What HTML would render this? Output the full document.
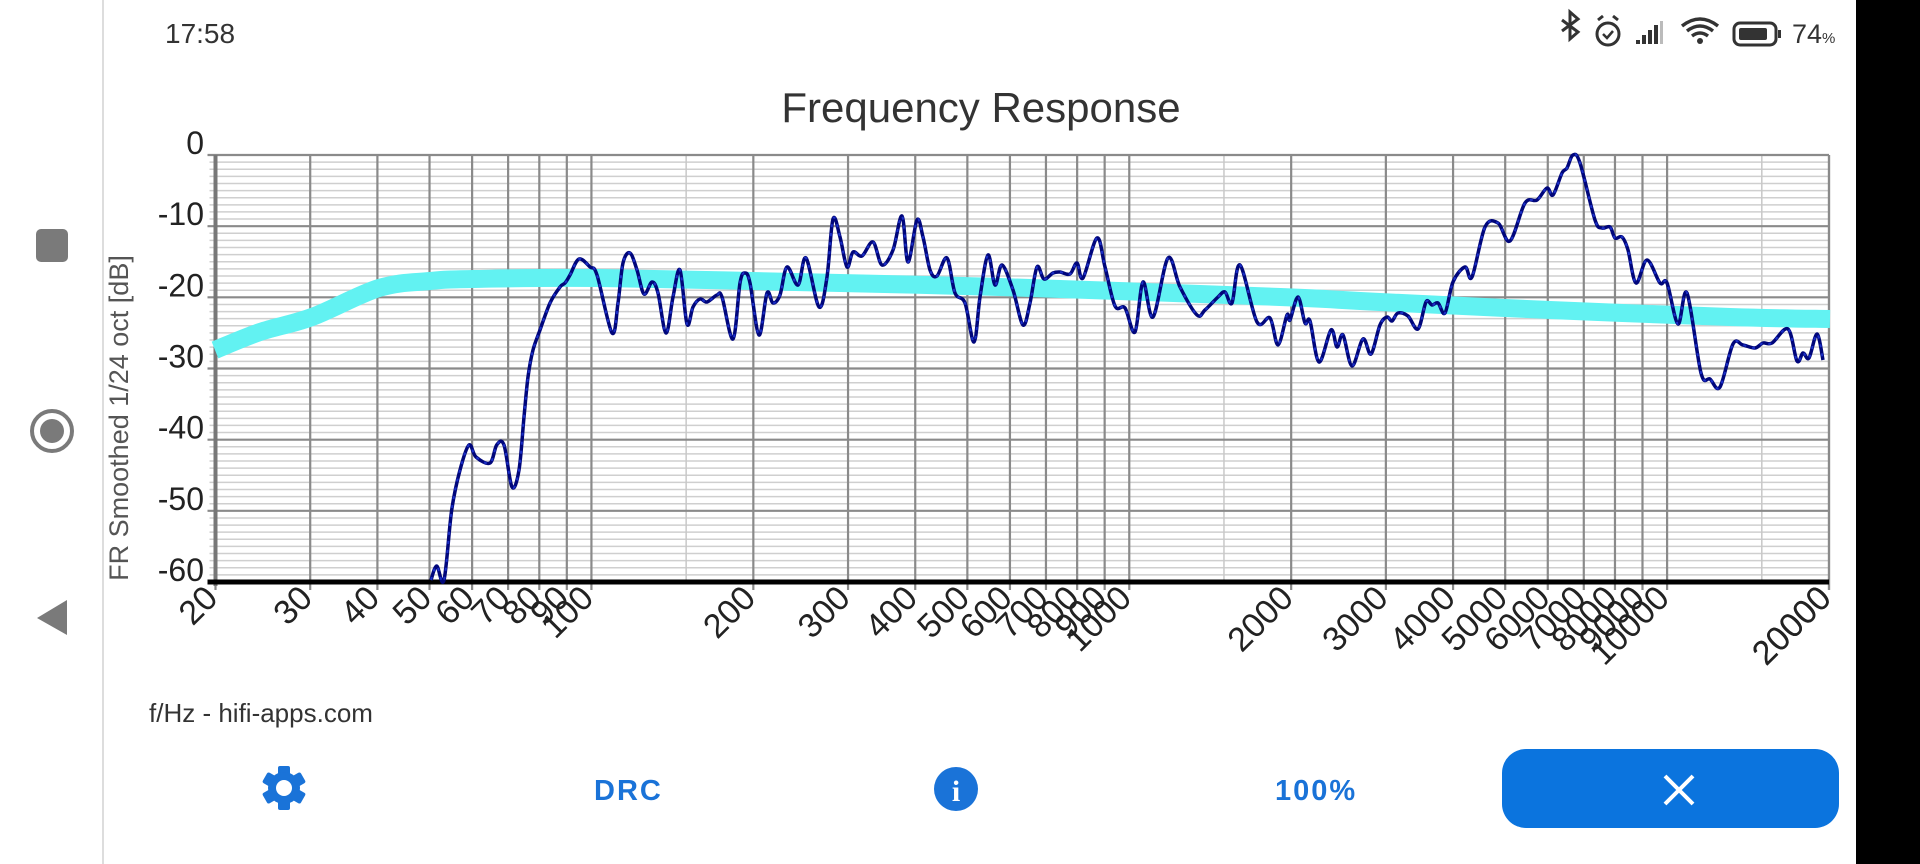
<!DOCTYPE html>
<html><head><meta charset="utf-8"><style>
html,body{margin:0;padding:0;background:#fff;width:1920px;height:864px;overflow:hidden}
svg{display:block}
</style></head><body>
<svg id="s" width="1920" height="864" xmlns="http://www.w3.org/2000/svg" font-family="Liberation Sans, sans-serif">
<rect width="1920" height="864" fill="#fff"/>
<rect x="1856" y="0" width="64" height="864" fill="#000"/>
<line x1="103" y1="0" x2="103" y2="864" stroke="#ddd" stroke-width="2"/>
<rect x="36" y="229" width="32" height="33" rx="5" fill="#7a7a7a"/>
<circle cx="52" cy="431" r="20" fill="none" stroke="#7a7a7a" stroke-width="4"/>
<circle cx="52" cy="431" r="12" fill="#7a7a7a"/>
<polygon points="67,600 67,635 37,618" fill="#7a7a7a"/>
<text x="165" y="43" font-size="28" fill="#333">17:58</text>
<!-- status icons -->
<g fill="#333" stroke="#333">
<path d="M1562,20 L1578,32 L1570,39 L1570,12 L1578,19 L1562,31" fill="none" stroke-width="3"/>
<circle cx="1608" cy="34" r="11" fill="none" stroke-width="3"/>
<path d="M1598,20 l5,-4 M1618,20 l-5,-4" fill="none" stroke-width="3"/>
<path d="M1603,34 l4,4 l6,-7" fill="none" stroke-width="2.5"/>
<rect x="1636" y="40" width="4" height="4" stroke="none"/><rect x="1642" y="35" width="4" height="9" stroke="none"/><rect x="1648" y="30" width="4" height="14" stroke="none"/><rect x="1654" y="25" width="4" height="19" stroke="none"/><rect x="1660" y="21" width="3" height="23" stroke="none" fill="#bbb"/>
<path d="M1682,26 Q1700,12 1718,26" fill="none" stroke-width="3.5"/><path d="M1687,31 Q1700,21 1713,31" fill="none" stroke-width="3.5"/><path d="M1692,36 Q1700,30 1708,36" fill="none" stroke-width="3.5"/><circle cx="1700" cy="41" r="3" stroke="none"/>
<rect x="1734" y="23" width="42" height="22" rx="6" fill="none" stroke-width="3"/><rect x="1739" y="28" width="28" height="12" rx="2" stroke="none"/><rect x="1778" y="30" width="3" height="8" stroke="none"/>
</g>
<text x="1792" y="43" font-size="27" fill="#333">74<tspan font-size="15">%</tspan></text>
<text x="981" y="122" font-size="42" fill="#333" text-anchor="middle">Frequency Response</text>
<text transform="translate(128,418) rotate(-90)" font-size="27" fill="#555" text-anchor="middle">FR Smoothed 1/24 oct [dB]</text>
<g id="grid"></g>
<g id="data"></g>
<text x="149" y="722" font-size="26" fill="#333">f/Hz - hifi-apps.com</text>
<g transform="translate(284,788)" fill="#1a73d8">
<g id="gear"></g>
<circle r="8" fill="#fff"/>
</g>
<text x="594" y="800" font-size="29" font-weight="bold" fill="#1a73d8" letter-spacing="2">DRC</text>
<circle cx="956" cy="789" r="22" fill="#1a73d8"/>
<text x="956" y="801" font-size="30" font-weight="bold" fill="#fff" text-anchor="middle" font-family="Liberation Serif, serif">i</text>
<text x="1275" y="800" font-size="29" font-weight="bold" fill="#1a73d8" letter-spacing="2">100%</text>
<rect x="1502" y="749" width="337" height="79" rx="24" fill="#0b74de"/>
<path d="M1665,776 L1693,804 M1693,776 L1665,804" stroke="#fff" stroke-width="4"/>
</svg>
<script>
var NS="http://www.w3.org/2000/svg";
var L=215.5,R=1829,T=155,B=582;
function X(f){return L+(Math.log10(f)-Math.log10(20))*(R-L)/3;}
function Y(d){return T+(-d)*(B-T)/60;}
function el(p,n,a){var e=document.createElementNS(NS,n);for(var k in a)e.setAttribute(k,a[k]);p.appendChild(e);return e;}
var g=document.getElementById('grid');
el(g,'rect',{x:L,y:T,width:R-L,height:B-T,fill:'#fff'});
for(var d=0;d>=-60;d--){if(d%10)el(g,'line',{x1:L-6,x2:R,y1:Y(d),y2:Y(d),stroke:'#cfcfcf','stroke-width':1.5});}
[15,150,1500,15000].forEach(function(f){if(f>20)el(g,'line',{x1:X(f),x2:X(f),y1:T,y2:B,stroke:'#c8c8c8','stroke-width':1.5});});
var freqs=[];[10,100,1000,10000].forEach(function(m){for(var i=1;i<10;i++){var f=i*m;if(f>=20&&f<=20000)freqs.push(f);}});freqs.push(20000);
freqs.forEach(function(f){el(g,'line',{x1:X(f),x2:X(f),y1:T,y2:B+8,stroke:'#8a8a8a','stroke-width':2.2});
var x=X(f)+4,y=600;var t=el(g,'text',{x:x,y:y,'font-size':34,fill:'#222','text-anchor':'end',transform:'rotate(-45 '+x+' '+y+')'});t.textContent=f;});
for(var d=0;d>=-60;d-=10){el(g,'line',{x1:L-8,x2:R,y1:Y(d),y2:Y(d),stroke:'#8a8a8a','stroke-width':2.2});
var t=el(g,'text',{x:204,y:Y(d)-1,'font-size':32,fill:'#222','text-anchor':'end'});t.textContent=d;}
el(g,'line',{x1:L,x2:L,y1:T,y2:B+4,stroke:'#777','stroke-width':4});
el(g,'line',{x1:R,x2:R,y1:T,y2:B,stroke:'#8a8a8a','stroke-width':2});
el(g,'line',{x1:L-8,x2:R,y1:B,y2:B,stroke:'#000','stroke-width':5});
function cr(p){var s='M'+p[0][0]+','+p[0][1];for(var i=0;i<p.length-1;i++){var p0=p[i-1]||p[i],p1=p[i],p2=p[i+1],p3=p[i+2]||p2;
s+=' C'+(p1[0]+(p2[0]-p0[0])/6).toFixed(1)+','+(p1[1]+(p2[1]-p0[1])/6).toFixed(1)+' '+(p2[0]-(p3[0]-p1[0])/6).toFixed(1)+','+(p2[1]-(p3[1]-p1[1])/6).toFixed(1)+' '+p2[0]+','+p2[1];}return s;}
var dg=document.getElementById('data');
var band=[[215,350],[260,332],[312,317],[379,288],[430,281],[473,279],[600,278],[840,283],[1000,287],[1280,297],[1380,302],[1550,310],[1730,317],[1830,319]];
el(dg,'path',{d:cr(band),fill:'none',stroke:'#62f2f2','stroke-width':18});
var c=[[431,580],[436.7,566],[444,580],[451.7,510],[460,470],[469,445],[476,457],[490,463],[496.7,445],[504,445],[512,487],[519,470],[524,417],[528,377],[533,350],[540,330],[550,303],[560,287],[565,283],[570,275],[579,259],[590,267],[597,275],[612,333],[618,303],[623,263],[630,253],[637,270],[644,294],[652,282],[658,293],[666,333],[673,297],[680,270],[687,324],[693,307],[700,299],[707,302],[717,295],[722,297],[733,339],[740,283],[745,273],[750,283],[759,335],[767,293],[773,303],[780,295],[787,267],[798,285],[806,258],[819,307],[827,277],[833,219],[840,237],[847,267],[853,252],[862,256],[873,242],[882,265],[893,250],[902,216],[908,262],[917,220],[923,237],[930,270],[937,276],[947,258],[955,293],[965,303],[974,342],[980,297],[988,255],[995,285],[1002,265],[1013,290],[1023,325],[1030,303],[1037,267],[1044,279],[1053,273],[1060,272],[1070,274],[1077,263],[1083,278],[1097,238],[1105,267],[1115,306],[1125,308],[1135,332],[1143,282],[1153,317],[1168,258],[1180,287],[1197,315],[1205,310],[1218,297],[1225,292],[1232,303],[1240,265],[1257,322],[1270,318],[1278,345],[1287,315],[1290,320],[1298,297],[1305,323],[1310,321],[1319,362],[1331,330],[1337,347],[1343,335],[1352,366],[1363,339],[1371,354],[1380,325],[1387,317],[1392,321],[1398,313],[1408,316],[1418,329],[1426,302],[1432,305],[1438,303],[1445,313],[1453,282],[1465,267],[1472,277],[1485,227],[1498,223],[1510,241],[1525,203],[1537,200],[1547,188],[1553,195],[1562,173],[1567,168],[1573,155],[1580,163],[1595,220],[1602,228],[1610,227],[1615,238],[1622,237],[1628,250],[1636,283],[1647,260],[1660,283],[1667,283],[1678,324],[1687,293],[1701,373],[1710,379],[1720,387],[1733,344],[1743,345],[1755,348],[1763,343],[1772,343],[1788,329],[1797,361],[1803,353],[1809,358],[1817,334],[1823,360]];
var pd=cr(c);
el(dg,'path',{d:pd,fill:'none',stroke:'#00067a','stroke-width':3.5,'stroke-linejoin':'round'});
el(dg,'path',{d:pd,fill:'none',stroke:'#1b2fc8','stroke-width':2,'stroke-dasharray':'3 6'});
var gg=document.getElementById('gear');
for(var i=0;i<6;i++){el(gg,'rect',{x:-6,y:-22,width:12,height:12,rx:2,transform:'rotate('+(i*60)+')'});}
el(gg,'circle',{r:16});
</script>
</body></html>
